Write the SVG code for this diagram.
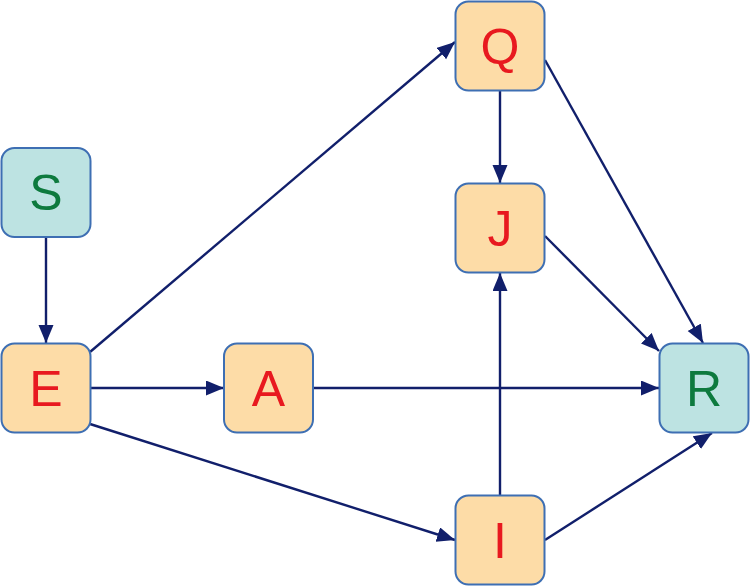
<svg xmlns="http://www.w3.org/2000/svg" width="750" height="586" viewBox="0 0 750 586">
<defs>
<marker id="arr" markerUnits="userSpaceOnUse" markerWidth="20" markerHeight="16" refX="18" refY="7.5" orient="auto">
<path d="M0,0 L18,7.5 L0,15 z" fill="#111f6b"/>
</marker>
<style>
.n rect{stroke:#3e6fb3;stroke-width:2}
.o rect{fill:#fddca7}
.t rect{fill:#bde3e2}
.n text{font-family:"Liberation Sans",Arial,sans-serif;font-size:50px;text-anchor:middle}
.o text{fill:#e8191f}
.t text{fill:#0d7a3e}
#edges line{stroke:#111f6b;stroke-width:2.4;marker-end:url(#arr)}
</style>
</defs>
<rect width="750" height="586" fill="#ffffff"/>
<g id="edges">
<line x1="46" y1="237" x2="46" y2="343"/>
<line x1="500" y1="90" x2="500" y2="183"/>
<line x1="90" y1="388" x2="224" y2="388"/>
<line x1="313" y1="388" x2="659" y2="388"/>
<line x1="90" y1="352" x2="455" y2="42"/>
<line x1="90" y1="424" x2="455" y2="540"/>
<line x1="500" y1="495" x2="500" y2="273"/>
<line x1="545" y1="540" x2="712" y2="433"/>
<line x1="545" y1="236" x2="659" y2="351"/>
<line x1="545" y1="60" x2="703" y2="343"/>
</g>
<g id="Q" class="n o"><rect x="455.5" y="1.5" width="89" height="89" rx="13"/><text x="500" y="64">Q</text></g>
<g id="S" class="n t"><rect x="1.5" y="148" width="89" height="89" rx="13"/><text x="46" y="210">S</text></g>
<g id="J" class="n o"><rect x="455.5" y="183.5" width="89" height="89" rx="13"/><text x="500" y="246">J</text></g>
<g id="E" class="n o"><rect x="1.5" y="343.5" width="89" height="89" rx="13"/><text x="46" y="406">E</text></g>
<g id="A" class="n o"><rect x="224" y="343.5" width="89" height="89" rx="13"/><text x="268.5" y="406">A</text></g>
<g id="R" class="n t"><rect x="659.5" y="343.5" width="89" height="89" rx="13"/><text x="704" y="406">R</text></g>
<g id="I" class="n o"><rect x="455.5" y="495.5" width="89" height="89" rx="13"/><text x="500" y="558">I</text></g>
</svg>
